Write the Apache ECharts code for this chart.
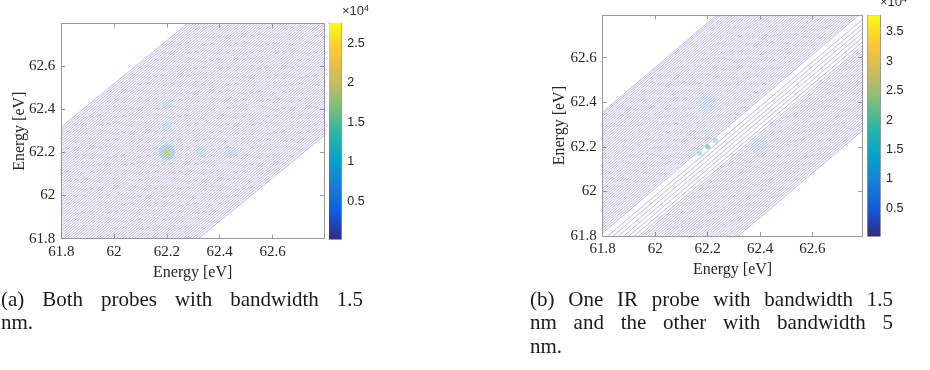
<!DOCTYPE html>
<html><head><meta charset="utf-8">
<script src="https://cdn.jsdelivr.net/npm/echarts@6/dist/echarts.min.js"></script>
<style>html,body{margin:0;padding:0;background:#fff}#c{width:930px;height:370px}</style>
</head><body><div id="c"></div>
<script>
// ---------- data ----------
const energyTicks = [61.8, 62, 62.2, 62.4, 62.6];
const axisRangeA = [61.8, 62.795];
const axisRangeB = [61.8, 62.79];
// contour lines y = x + c, intercepts c (eV)
const interceptsA = [-0.518,-0.506,-0.495,-0.483,-0.472,-0.460,-0.449,-0.437,-0.426,-0.414,-0.403,-0.391,-0.380,-0.368,-0.357,-0.345,-0.334,-0.322,-0.311,-0.299,-0.288,-0.276,-0.265,-0.253,-0.242,-0.230,-0.219,-0.207,-0.196,-0.184,-0.173,-0.161,-0.150,-0.138,-0.127,-0.115,-0.104,-0.092,-0.081,-0.069,-0.058,-0.046,-0.035,-0.023,-0.012,0.000,0.012,0.023,0.035,0.046,0.058,0.069,0.081,0.092,0.104,0.115,0.127,0.138,0.150,0.161,0.173,0.184,0.196,0.207,0.219,0.230,0.242,0.253,0.265,0.276,0.288,0.299,0.311,0.322,0.334,0.345,0.357,0.368,0.380,0.391,0.403,0.414,0.426,0.437,0.449,0.460,0.472,0.483,0.495,0.506,0.517];
const interceptsB = [-0.517,-0.505,-0.494,-0.482,-0.471,-0.459,-0.448,-0.436,-0.425,-0.413,-0.402,-0.390,-0.379,-0.367,-0.356,-0.344,-0.333,-0.321,-0.310,-0.298,-0.287,-0.275,-0.264,-0.252,-0.241,-0.229,-0.218,-0.206,-0.195,-0.183,-0.172,-0.160,-0.149,-0.137,-0.120,-0.100,-0.080,-0.060,-0.040,-0.019,0.014,0.025,0.036,0.047,0.058,0.070,0.081,0.092,0.103,0.114,0.125,0.136,0.148,0.159,0.170,0.181,0.192,0.203,0.214,0.226,0.237,0.248,0.259,0.270,0.281,0.292,0.304,0.315,0.326,0.337,0.348,0.359,0.370,0.382,0.393,0.404,0.415,0.426,0.437,0.448,0.460,0.471,0.482,0.493,0.504,0.515,0.526,0.538,0.547,0.556];
// bright spots: [x, y, intensity]
const glowA = [[62.2,62.2,12000],[62.33,62.2,7500],[62.45,62.2,7000],[62.2,62.32,7500],[62.2,62.42,6500],[62.2,62.2,24000]];
const glowSizeA = [16,10,10,10,9,6];
const glowAlphaA = [0.2,0.08,0.07,0.08,0.07,0.55];
const glowB = [[62.2,62.4,6000],[62.4,62.2,6000],[62.17,62.17,12000],[62.23,62.23,12000],[62.2,62.2,21000]];
const glowSizeB = [18,18,5,5,5];
const glowAlphaB = [0.05,0.05,0.3,0.3,0.6];
const colorRangeA = [200, 27600];
const colorRangeB = [300, 37800];
const colorTicksA = [5000,10000,15000,20000,25000];
const colorTicksB = [5000,10000,15000,20000,25000,30000,35000];
const captionA = [['(a)','Both','probes','with','bandwidth','1.5'], ['nm.']];
const captionB = [['(b)','One','IR','probe','with','bandwidth','1.5'], ['nm','and','the','other','with','bandwidth','5'], ['nm.']];
// ---------- style ----------
const parula = ['#352a87','#0f5cdd','#1481d6','#06a4ca','#2eb7a4','#87bf77','#d1bb59','#fec832','#f9fb0e'];
const serif = '"Liberation Serif", "DejaVu Serif", serif';
const sans = '"Liberation Sans", Arial, sans-serif';
const boxColor = '#9a9a9a';
const capFont = '21px ' + serif;

function segs(cs, r) {
  return cs.map(c => {
    const x0 = Math.max(r[0], r[0] - c), x1 = Math.min(r[1], r[1] - c);
    return { coords: [[x0, x0 + c], [x1, x1 + c]] };
  });
}

const grids = [
  {left: 61.3, top: 23.7, width: 262.7, height: 215},
  {left: 329, top: 23, width: 12.3, height: 216},
  {left: 602.7, top: 15.3, width: 259.6, height: 220.7},
  {left: 867.7, top: 15.3, width: 12.3, height: 220.7}
];

const xAxes = [], yAxes = [];
function mainAxes(gi, r, xGap, yGap) {
  const base = {type: 'value', gridIndex: gi, min: r[0], max: r[1],
    splitLine: {show: false}, axisLine: {show: true, onZero: false, lineStyle: {color: boxColor, width: 1}},
    axisTick: {show: true, inside: true, length: 4, customValues: energyTicks, lineStyle: {color: boxColor}}};
  const lab = {show: true, customValues: energyTicks, color: '#262626', fontFamily: serif, fontSize: 15, margin: 6};
  const nm = {fontFamily: serif, fontSize: 16, color: '#262626'};
  xAxes.push(Object.assign({}, base, {position: 'bottom', axisLabel: lab,
    name: 'Energy [eV]', nameLocation: 'middle', nameGap: xGap, nameMoveOverlap: false, nameTextStyle: nm}));
  xAxes.push(Object.assign({}, base, {position: 'top', axisLabel: {show: false}}));
  yAxes.push(Object.assign({}, base, {position: 'left', axisLabel: lab,
    name: 'Energy [eV]', nameLocation: 'middle', nameGap: yGap, nameMoveOverlap: false, nameTextStyle: nm}));
  yAxes.push(Object.assign({}, base, {position: 'right', axisLabel: {show: false}}));
}
function barAxes(gi, cr, ticks) {
  const line = {show: true, onZero: false, lineStyle: {color: boxColor, width: 1}};
  xAxes.push({type: 'value', gridIndex: gi, min: 0, max: 1, position: 'bottom', axisLine: line,
    axisTick: {show: false}, axisLabel: {show: false}, splitLine: {show: false}});
  xAxes.push({type: 'value', gridIndex: gi, min: 0, max: 1, position: 'top', axisLine: line,
    axisTick: {show: false}, axisLabel: {show: false}, splitLine: {show: false}});
  yAxes.push({type: 'value', gridIndex: gi, min: cr[0], max: cr[1], position: 'right', axisLine: line,
    axisTick: {show: true, inside: true, length: 3, customValues: ticks, lineStyle: {color: '#333'}},
    axisLabel: {show: true, customValues: ticks, formatter: v => String(v / 10000), color: '#262626',
      fontFamily: sans, fontSize: 12.5, margin: 6},
    splitLine: {show: false}});
  yAxes.push({type: 'value', gridIndex: gi, min: cr[0], max: cr[1], position: 'left', axisLine: line,
    axisTick: {show: false}, axisLabel: {show: false}, splitLine: {show: false}});
}
mainAxes(0, axisRangeA, 26, 34);
barAxes(1, colorRangeA, colorTicksA);
mainAxes(2, axisRangeB, 26, 35);
barAxes(3, colorRangeB, colorTicksB);

function barSeries(xi, yi, cr) {
  return {type: 'custom', xAxisIndex: xi, yAxisIndex: yi, silent: true,
    data: [[0, cr[0], cr[1]]],
    renderItem: (params, api) => {
      const p0 = api.coord([0, api.value(1)]), p1 = api.coord([1, api.value(2)]);
      return {type: 'rect', shape: {x: p0[0], y: p1[1], width: p1[0] - p0[0], height: p0[1] - p1[1]},
        style: {fill: new echarts.graphic.LinearGradient(0, 1, 0, 0,
          parula.map((c, i) => ({offset: i / (parula.length - 1), color: c})))}};
    }};
}
function lineSeries(xi, yi, cs, r) {
  return {type: 'lines', coordinateSystem: 'cartesian2d', xAxisIndex: xi, yAxisIndex: yi, silent: true,
    polyline: false, data: segs(cs, r), lineStyle: {color: 'rgb(110,105,215)', width: 0.8, opacity: 0.6}, z: 3};
}
function glowSeries(xi, yi, pts, sizes, alphas) {
  return {type: 'scatter', xAxisIndex: xi, yAxisIndex: yi, silent: true,
    data: pts.map((p, i) => ({value: p, symbolSize: sizes[i],
      itemStyle: {opacity: alphas[i], shadowBlur: 8,
        shadowColor: p[2] > 18000 ? 'rgba(250,200,60,0.8)' : 'rgba(60,190,230,0.8)'}})), z: 4};
}

const series = [
  lineSeries(0, 0, interceptsA, axisRangeA),
  glowSeries(0, 0, glowA, glowSizeA, glowAlphaA),
  barSeries(2, 2, colorRangeA),
  lineSeries(4, 4, interceptsB, axisRangeB),
  glowSeries(4, 4, glowB, glowSizeB, glowAlphaB),
  barSeries(6, 6, colorRangeB)
];

// justified caption lines (last line of a paragraph is left aligned)
const mctx = document.createElement('canvas').getContext('2d');
mctx.font = capFont;
function capText(lines, x0, x1, yMid) {
  const out = [];
  lines.forEach((words, li) => {
    const widths = words.map(w => mctx.measureText(w).width);
    const last = li === lines.length - 1;
    const gap = last ? mctx.measureText(' ').width
      : (x1 - x0 - widths.reduce((a, b) => a + b, 0)) / (words.length - 1);
    let x = x0;
    words.forEach((w, i) => {
      out.push({type: 'text', x: x, y: yMid + li * 23.5,
        style: {text: w, font: capFont, fill: '#1a1a1a', verticalAlign: 'middle'}});
      x += widths[i] + gap;
    });
  });
  return out;
}
function timesTen(x, y) {
  return {type: 'text', left: x, top: y, style: {text: '×10{s|4}', fill: '#333',
    font: '13px ' + sans, rich: {s: {fontSize: 9, verticalAlign: 'top', padding: [0,0,6,0], fontFamily: sans, fill: '#333'}}}};
}

const chart = echarts.init(document.getElementById('c'), null, {renderer: 'canvas'});
chart.setOption({
  animation: false,
  grid: grids,
  xAxis: xAxes,
  yAxis: yAxes,
  visualMap: [
    {show: false, type: 'continuous', seriesIndex: 1, dimension: 2, min: colorRangeA[0], max: colorRangeA[1], inRange: {color: parula}},
    {show: false, type: 'continuous', seriesIndex: 4, dimension: 2, min: colorRangeB[0], max: colorRangeB[1], inRange: {color: parula}}
  ],
  series: series,
  graphic: [].concat(capText(captionA, 1, 363, 300), capText(captionB, 530, 893, 300), [timesTen(342, 4), timesTen(880, -5)])
});
</script></body></html>
